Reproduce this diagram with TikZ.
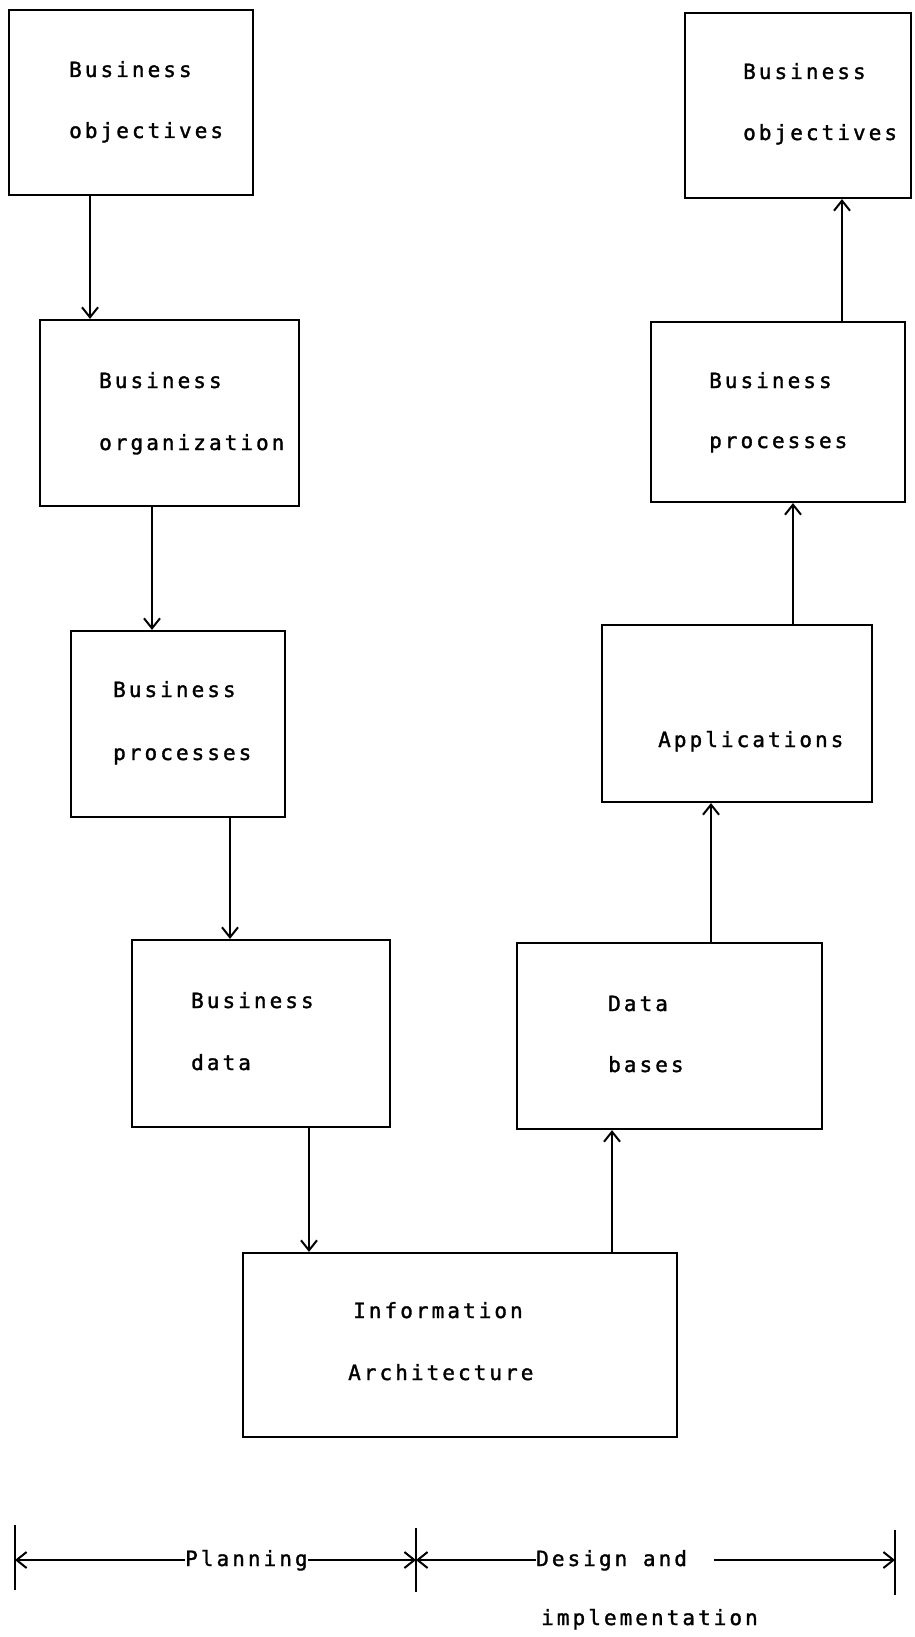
\documentclass[tikz,border=0pt]{standalone}
\usepackage{fontspec}
\newfontfamily\plotfont[LetterSpace=14.5,FakeBold=1.5]{DejaVu Sans Mono}
\usetikzlibrary{arrows.meta}
\begin{document}
\begin{tikzpicture}[x=1pt,y=-1pt,
  box/.style={draw, line width=2.2pt, rectangle, inner sep=0pt},
  lbl/.style={inner sep=0pt, anchor=base west, font=\plotfont\fontsize{21}{21}\selectfont},
  barb/.tip={Straight Barb[length=10pt,width=16pt,line width=2pt]},
  conn/.style={line width=2.2pt, -barb},
  rule/.style={line width=2pt}]
\useasboundingbox (0,0) rectangle (914,1637);
% boxes
\node[box, minimum width=244pt, minimum height=185pt] (b1) at (131,102.5) {};
\node[box, minimum width=259pt, minimum height=186pt] (b2) at (169.5,413) {};
\node[box, minimum width=214pt, minimum height=186pt] (b3) at (178,724) {};
\node[box, minimum width=258pt, minimum height=187pt] (b4) at (261,1033.5) {};
\node[box, minimum width=434pt, minimum height=184pt] (b5) at (460,1345) {};
\node[box, minimum width=305pt, minimum height=186pt] (b6) at (669.5,1036) {};
\node[box, minimum width=270pt, minimum height=177pt] (b7) at (737,713.5) {};
\node[box, minimum width=254pt, minimum height=180pt] (b8) at (778,412) {};
\node[box, minimum width=226pt, minimum height=185pt] (b9) at (798,105.5) {};
% texts
\node[lbl] (t1a) at (69,77) {Business};
\node[lbl] (t1b) at (69,138) {objectives};
\node[lbl] (t2a) at (99,388) {Business};
\node[lbl] (t2b) at (99,450) {organization};
\node[lbl] (t3a) at (113,697) {Business};
\node[lbl] (t3b) at (113,760) {processes};
\node[lbl] (t4a) at (191,1008) {Business};
\node[lbl] (t4b) at (191,1070) {data};
\node[lbl] (t5a) at (353,1318) {Information};
\node[lbl] (t5b) at (348,1380) {Architecture};
\node[lbl] (t6a) at (608,1011) {Data};
\node[lbl] (t6b) at (608,1072) {bases};
\node[lbl] (t7) at (658,747) {Applications};
\node[lbl] (t8a) at (709,388) {Business};
\node[lbl] (t8b) at (709,448) {processes};
\node[lbl] (t9a) at (743,79) {Business};
\node[lbl] (t9b) at (743,140) {objectives};
% connectors
\draw[conn] (90,0 |- b1.south) -- (90,0 |- b2.north);
\draw[conn] (152,0 |- b2.south) -- (152,0 |- b3.north);
\draw[conn] (230,0 |- b3.south) -- (230,0 |- b4.north);
\draw[conn] (309,0 |- b4.south) -- (309,0 |- b5.north);
\draw[conn] (612,0 |- b5.north) -- (612,0 |- b6.south);
\draw[conn] (711,0 |- b6.north) -- (711,0 |- b7.south);
\draw[conn] (793,0 |- b7.north) -- (793,0 |- b8.south);
\draw[conn] (842,0 |- b8.north) -- (842,0 |- b9.south);
% time line
\coordinate (L) at (15,1560);
\coordinate (M) at (416,1560);
\coordinate (R) at (895,1560);
\coordinate (Lt) at (15,1525); \coordinate (Lb) at (15,1590);
\coordinate (Mt) at (416,1528); \coordinate (Mb) at (416,1592);
\coordinate (Rt) at (895,1530); \coordinate (Rb) at (895,1595);
\coordinate (Rs) at (714,1560);
\draw[rule] (Lt) -- (Lb);
\draw[rule] (Mt) -- (Mb);
\draw[rule] (Rt) -- (Rb);
\node[lbl] (plan) at (185,1566) {Planning};
\node[lbl] (des) at (536,1566) {Design and};
\node[lbl] (impl) at (541,1625) {implementation};
\draw[rule, barb-] (L) -- (L -| plan.west);
\draw[rule, -barb] (plan.east |- M) -- (M);
\draw[rule, barb-] (M) -- (M -| des.west);
\draw[rule, -barb] (Rs) -- (R);
\end{tikzpicture}
\end{document}
